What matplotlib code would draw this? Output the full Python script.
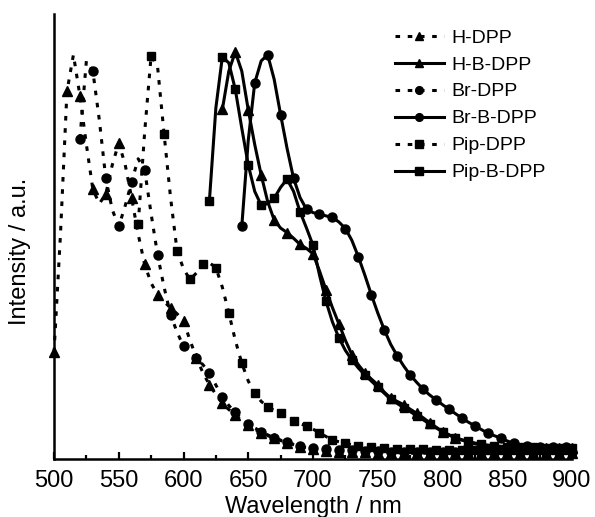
import numpy as np
import matplotlib
matplotlib.use("Agg")
import matplotlib.pyplot as plt

plt.rcParams['font.family'] = ['Liberation Sans', 'DejaVu Sans']

# emission spectra, normalised intensity (5 nm steps)
wl_h_dpp = np.arange(500, 905, 5)
h_dpp = [0.26, 0.55, 0.90, 0.99, 0.89, 0.77, 0.66, 0.625, 0.648, 0.72,
         0.774, 0.72, 0.638, 0.55, 0.476, 0.43, 0.402, 0.385, 0.369, 0.355,
         0.337, 0.29, 0.247, 0.21, 0.181, 0.157, 0.136, 0.12, 0.107, 0.094,
         0.082, 0.072, 0.063, 0.056, 0.050, 0.044, 0.039, 0.034, 0.029, 0.026,
         0.023, 0.021, 0.019, 0.018, 0.017, 0.016, 0.016, 0.015, 0.015, 0.015,
         0.014, 0.014, 0.014, 0.014, 0.014, 0.013, 0.013, 0.013, 0.013, 0.013,
         0.013, 0.013, 0.013, 0.013, 0.013, 0.013, 0.013, 0.013, 0.013, 0.013,
         0.013, 0.013, 0.013, 0.013, 0.013, 0.013, 0.013, 0.013, 0.013, 0.013,
         0.013]

wl_br_dpp = np.arange(520, 905, 5)
br_dpp = [0.784, 0.975, 0.95, 0.83, 0.687, 0.61, 0.569, 0.62, 0.679, 0.735,
          0.708, 0.60, 0.499, 0.42, 0.353, 0.31, 0.275, 0.258, 0.247, 0.23,
          0.21, 0.18, 0.152, 0.13, 0.113, 0.098, 0.085, 0.075, 0.066, 0.058,
          0.051, 0.045, 0.040, 0.035, 0.031, 0.028, 0.025, 0.024, 0.023, 0.022,
          0.021, 0.020, 0.020, 0.019, 0.019, 0.018, 0.018, 0.018, 0.017, 0.017,
          0.017, 0.017, 0.017, 0.016, 0.016, 0.016, 0.016, 0.016, 0.016, 0.016,
          0.016, 0.016, 0.016, 0.016, 0.016, 0.016, 0.016, 0.016, 0.016, 0.016,
          0.016, 0.016, 0.016, 0.016, 0.016, 0.016, 0.016]

wl_pip_dpp = np.arange(565, 905, 5)
pip_dpp = [0.574, 0.80, 0.988, 0.96, 0.796, 0.64, 0.51, 0.465, 0.439, 0.455,
           0.478, 0.48, 0.468, 0.42, 0.357, 0.29, 0.234, 0.19, 0.16, 0.14,
           0.127, 0.118, 0.111, 0.10, 0.091, 0.085, 0.08, 0.072, 0.063, 0.054,
           0.045, 0.041, 0.037, 0.034, 0.031, 0.029, 0.027, 0.026, 0.025, 0.025,
           0.024, 0.024, 0.023, 0.023, 0.023, 0.022, 0.022, 0.022, 0.022, 0.021,
           0.021, 0.021, 0.021, 0.021, 0.021, 0.020, 0.020, 0.020, 0.020, 0.020,
           0.020, 0.020, 0.020, 0.020, 0.020, 0.020, 0.020, 0.020]

wl_pip_b_dpp = np.arange(620, 905, 5)
pip_b_dpp = [0.632, 0.86, 0.985, 0.97, 0.905, 0.81, 0.72, 0.655, 0.621, 0.625,
             0.638, 0.665, 0.685, 0.655, 0.605, 0.565, 0.523, 0.45, 0.386, 0.335,
             0.296, 0.265, 0.242, 0.222, 0.205, 0.19, 0.175, 0.16, 0.145, 0.135,
             0.125, 0.115, 0.105, 0.095, 0.085, 0.075, 0.066, 0.058, 0.051, 0.046,
             0.042, 0.038, 0.035, 0.033, 0.031, 0.030, 0.029, 0.028, 0.028, 0.027,
             0.027, 0.027, 0.026, 0.026, 0.026, 0.026, 0.026]

wl_h_b_dpp = np.arange(630, 905, 5)
h_b_dpp = [0.856, 0.95, 0.997, 0.95, 0.855, 0.77, 0.695, 0.63, 0.585, 0.565,
           0.554, 0.54, 0.525, 0.515, 0.502, 0.46, 0.414, 0.37, 0.33, 0.29,
           0.255, 0.23, 0.21, 0.195, 0.181, 0.163, 0.148, 0.14, 0.132, 0.121,
           0.111, 0.10, 0.088, 0.077, 0.066, 0.058, 0.050, 0.045, 0.040, 0.036,
           0.033, 0.031, 0.029, 0.028, 0.027, 0.027, 0.026, 0.026, 0.026, 0.025,
           0.025, 0.025, 0.025, 0.025, 0.025]

wl_br_b_dpp = np.arange(645, 905, 5)
br_b_dpp = [0.569, 0.78, 0.921, 0.975, 0.99, 0.93, 0.843, 0.76, 0.687, 0.64,
            0.611, 0.603, 0.599, 0.595, 0.591, 0.58, 0.564, 0.535, 0.495, 0.45,
            0.402, 0.357, 0.316, 0.28, 0.252, 0.227, 0.205, 0.187, 0.170, 0.156,
            0.144, 0.132, 0.121, 0.11, 0.099, 0.089, 0.080, 0.071, 0.062, 0.056,
            0.050, 0.043, 0.037, 0.034, 0.031, 0.030, 0.029, 0.029, 0.028, 0.028,
            0.028, 0.028]

series = [
    ("H-DPP", wl_h_dpp, h_dpp, "^", "dot"),
    ("H-B-DPP", wl_h_b_dpp, h_b_dpp, "^", "solid"),
    ("Br-DPP", wl_br_dpp, br_dpp, "o", "dot"),
    ("Br-B-DPP", wl_br_b_dpp, br_b_dpp, "o", "solid"),
    ("Pip-DPP", wl_pip_dpp, pip_dpp, "s", "dot"),
    ("Pip-B-DPP", wl_pip_b_dpp, pip_b_dpp, "s", "solid"),
]
marker_size = {"^": 7.5, "o": 6.5, "s": 6.0}

fig = plt.figure(figsize=(5.95, 5.17), dpi=100)
ax = fig.add_axes([54 / 595, 58.5 / 517, 518 / 595, 444.5 / 517])

for name, wl, y, mk, style in series:
    ls = (0, (1.5, 2.5)) if style == "dot" else "-"
    ax.plot(wl, y, color="black", linestyle=ls, linewidth=2.2,
            marker=mk, markersize=marker_size[mk], markevery=2,
            label=name, clip_on=False)

ax.set_xlim(500, 900)
ax.set_ylim(0, 1.09)
ax.set_xticks(np.arange(500, 901, 50))
ax.set_xticks(np.arange(525, 900, 50), minor=True)
ax.set_yticks([])
ax.tick_params(axis="x", which="major", direction="in", length=5, width=1.6,
               labelsize=17, pad=8)
ax.tick_params(axis="x", which="minor", direction="in", length=3, width=1.6)
for side in ("top", "right"):
    ax.spines[side].set_visible(False)
for side in ("left", "bottom"):
    ax.spines[side].set_linewidth(1.8)

ax.set_xlabel("Wavelength / nm", fontsize=17, labelpad=3)
ax.set_ylabel("Intensity / a.u.", fontsize=17)
ax.yaxis.set_label_coords(-0.044, 0.465)

ax.legend(loc="upper left", bbox_to_anchor=(395 / 595, 1 - 29 / 517),
          bbox_transform=fig.transFigure, frameon=False, fontsize=14,
          handlelength=2.5, handletextpad=0.4, labelspacing=0.48,
          borderpad=0, borderaxespad=0, markerscale=0.85)

fig.savefig("out.png", dpi=100)
